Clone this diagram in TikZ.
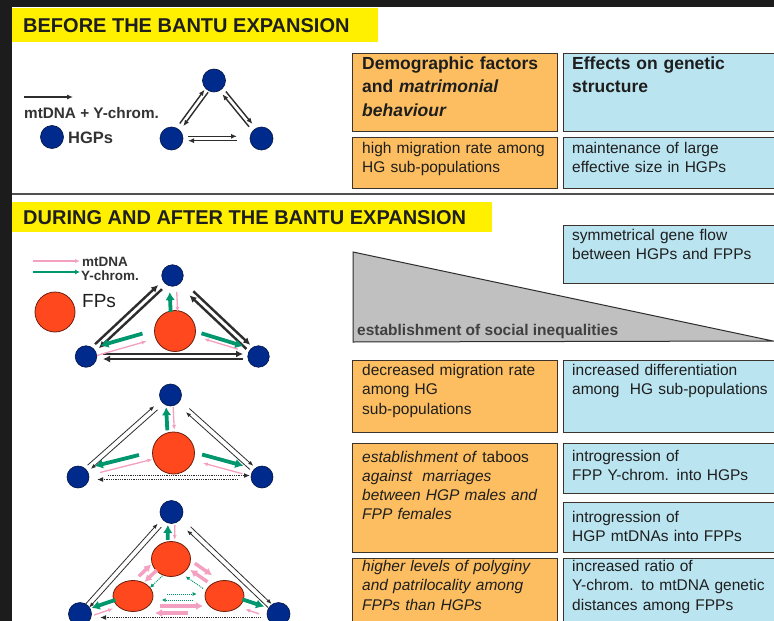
\documentclass[tikz,border=0pt]{standalone}
\usepackage{fontspec}
\setmainfont{Liberation Sans}
\usetikzlibrary{arrows.meta,calc,shapes.geometric}
\definecolor{bgdark}{RGB}{28,28,28}
\definecolor{ban}{RGB}{255,240,0}
\definecolor{orf}{RGB}{252,190,96}
\definecolor{blf}{RGB}{186,228,240}
\definecolor{bord}{RGB}{60,52,44}
\definecolor{hgp}{RGB}{0,42,140}
\definecolor{hgpd}{RGB}{0,20,70}
\definecolor{fpp}{RGB}{255,72,30}
\definecolor{fppd}{RGB}{110,30,10}
\definecolor{grn}{RGB}{0,150,110}
\definecolor{pnk}{RGB}{244,160,192}
\definecolor{blk}{RGB}{45,45,45}
\definecolor{tri}{RGB}{192,192,192}
\definecolor{sepc}{RGB}{80,80,80}
\definecolor{txtc}{RGB}{30,30,30}
\newcommand{\mylink}[6]{\draw[#1,shorten <=#5pt,shorten >=#6pt] ($(#2)!#4pt!90:(#3)$) -- ($(#3)!#4pt!-90:(#2)$);}
\tikzset{
  obox/.style={draw=bord,line width=1.4pt,fill=orf,anchor=north west,inner sep=0pt},
  bbox/.style={draw=bord,line width=1.4pt,fill=blf,anchor=north west,inner sep=0pt},
  txt/.style={anchor=base west,inner sep=0pt,text width=200pt,align=left,text=txtc,font=\fontsize{15.5}{#1}\selectfont},
  txt/.default=19,
  hdr/.style={anchor=base west,inner sep=0pt,text width=200pt,align=left,text=txtc,font=\bfseries\fontsize{17.5}{23.5}\selectfont},
  bantxt/.style={anchor=base west,inner sep=0pt,text=txtc,font=\bfseries\fontsize{20}{24}\selectfont},
  lab/.style={anchor=base west,inner sep=0pt,text=txtc},
  hg/.style={circle,fill=hgp,draw=hgpd,line width=0.6pt,minimum size=23pt,inner sep=0pt},
  fp/.style={circle,fill=fpp,draw=fppd,line width=0.8pt,minimum size=41pt,inner sep=0pt},
  fpe/.style={ellipse,fill=fpp,draw=fppd,line width=0.8pt,minimum width=39pt,minimum height=34pt,inner sep=0pt},
  ar1/.style={draw=blk,line width=1.4pt,-{Latex[length=6pt,width=5pt]}},
  ar2/.style={draw=blk,line width=2.4pt,-{Latex[length=7pt,width=7pt]}},
  ar3/.style={draw=blk,line width=0.8pt,-{Latex[length=5pt,width=4pt]}},
  ar3d/.style={draw=blk,line width=1.2pt,dash pattern=on 1pt off 0.8pt,-{Latex[length=6pt,width=5pt]}},
  gr/.style={draw=grn,line width=3.8pt,-{Latex[length=8pt,width=9.5pt]}},
  pk/.style={draw=pnk,line width=1.3pt,-{Latex[length=5pt,width=4pt]}},
  pkt/.style={draw=pnk,line width=3.5pt,-{Latex[length=7pt,width=8pt]}},
  grd/.style={draw=grn,line width=1pt,dash pattern=on 1pt off 1pt,-{Latex[length=4pt,width=4pt]}},
}
\begin{document}
\begin{tikzpicture}[x=1pt,y=-1pt]
\useasboundingbox (0,0) rectangle (774,621);
\clip (0,0) rectangle (774,621);
\fill[bgdark] (0,0) rectangle (774,621);
\fill[white] (12,7) rectangle (774,621);

% banners
\node[fill=ban,anchor=north west,minimum width=366pt,minimum height=34pt,inner sep=0pt] (ban1) at (12,8) {};
\node[bantxt] (bt1) at (23,32) {BEFORE THE BANTU EXPANSION};
\node[fill=ban,anchor=north west,minimum width=480pt,minimum height=30pt,inner sep=0pt] (ban2) at (12,202) {};
\node[bantxt] (bt2) at (23,224) {DURING AND AFTER THE BANTU EXPANSION};
\draw[sepc,line width=2pt] (12,194) -- (774,194);

% top table
\node[obox,minimum width=205pt,minimum height=78pt] (h1) at (352,53) {};
\node[bbox,minimum width=222pt,minimum height=78pt] (h2) at (563,53) {};
\node[hdr] (h1t) at (362,69) {Demographic factors\\and \textit{matrimonial}\\\textit{behaviour}};
\node[hdr] (h2t) at (572,69) {Effects on genetic\\structure};
\node[obox,minimum width=205pt,minimum height=51pt] (o1) at (352,137) {};
\node[bbox,minimum width=222pt,minimum height=51pt] (b1) at (563,137) {};
\node[txt] (o1t) at (362,153) {high migration rate among\\HG sub-populations};
\node[txt] (b1t) at (572,153) {maintenance of large\\effective size in HGPs};

% gray wedge
\draw[fill=tri,draw=blk,line width=1pt] (353,252) -- (353,342) -- (773,341) -- cycle;
\node[lab,font=\bfseries\fontsize{15.5}{18}\selectfont,text=black!75] (wt) at (357,335) {establishment of social inequalities};
\node[bbox,minimum width=222pt,minimum height=58pt] (b2) at (563,225) {};
\node[txt=19.5] (b2t) at (572,240) {symmetrical gene flow\\between HGPs and FPPs};

% lower table
\node[obox,minimum width=205pt,minimum height=72pt] (o3) at (352,360) {};
\node[bbox,minimum width=222pt,minimum height=72pt] (b3) at (563,360) {};
\node[txt=19.5] (o3t) at (362,375) {decreased migration rate\\among HG\\sub-populations};
\node[txt=19.5] (b3t) at (572,375) {increased differentiation\\among\ \ HG sub-populations};
\node[obox,minimum width=205pt,minimum height=109pt] (o4) at (352,443) {};
\node[bbox,minimum width=222pt,minimum height=50pt] (b4) at (563,443) {};
\node[bbox,minimum width=222pt,minimum height=50pt] (b5) at (563,502) {};
\node[txt=19] (o4t) at (362,462) {\textit{establishment of} taboos\\\textit{against\ \ marriages}\\\textit{between HGP males and}\\\textit{FPP females}};
\node[txt=19] (b4t) at (572,461) {introgression of\\FPP Y-chrom. into HGPs};
\node[txt=19] (b5t) at (572,522) {introgression of\\HGP mtDNAs into FPPs};
\node[obox,minimum width=205pt,minimum height=80pt] (o6) at (352,558) {};
\node[bbox,minimum width=222pt,minimum height=80pt] (b6) at (563,558) {};
\node[txt=19.5] (o6t) at (362,571) {\textit{higher levels of polyginy}\\\textit{and patrilocality among}\\\textit{FPPs than HGPs}};
\node[txt=19.5] (b6t) at (572,571) {increased ratio of\\Y-chrom. to mtDNA genetic\\distances among FPPs};

% legend 1
\coordinate (la1) at (24,97);
\coordinate (la2) at (73,97);
\draw[ar1,line width=1.1pt] (la1) -- (la2);
\node[lab,font=\bfseries\fontsize{15.3}{18}\selectfont,text=black!80] (lt1) at (24,118) {mtDNA + Y-chrom.};
\node[hg] (lg) at (52,137) {};
\node[lab,font=\bfseries\fontsize{16.5}{19}\selectfont,text=black!80] (lt2) at (68,143) {HGPs};

% triangle 1
\node[hg] (t1) at (214,80.5) {};
\node[hg] (l1) at (171.5,138.5) {};
\node[hg] (r1) at (261.5,138.5) {};
\mylink{ar1}{l1}{t1}{2.2}{17}{13}
\mylink{ar1}{t1}{l1}{2.2}{13}{17}
\mylink{ar1}{t1}{r1}{2.2}{16}{17}
\mylink{ar1}{r1}{t1}{2.2}{17}{16}
\mylink{ar1}{l1}{r1}{2.2}{16.5}{24.5}
\mylink{ar1}{r1}{l1}{2.2}{24.5}{16.5}

% legend 2
\coordinate (lp1) at (33,261);
\coordinate (lp2) at (80,261);
\coordinate (lq1) at (33,272);
\coordinate (lq2) at (80,272);
\draw[pk,line width=1.6pt] (lp1) -- (lp2);
\draw[draw=grn,line width=2.2pt,-{Latex[length=5pt,width=5pt]}] (lq1) -- (lq2);
\node[lab,font=\bfseries\fontsize{13.5}{16}\selectfont,text=black!80] (lt3) at (82,266) {mtDNA};
\node[lab,font=\bfseries\fontsize{13.5}{16}\selectfont,text=black!80] (lt4) at (81,280) {Y-chrom.};
\node[fp,minimum size=40pt] (lf) at (55,312) {};
\node[lab,font=\fontsize{19}{22}\selectfont] (lt5) at (82,307) {FPs};

% triangle 2
\node[hg,minimum size=21.5pt] (t2) at (172.5,275.5) {};
\node[hg,minimum size=21.5pt] (l2) at (86,356.5) {};
\node[hg,minimum size=21.5pt] (r2) at (258.5,356.5) {};
\node[fp] (f2) at (175,331) {};
\mylink{ar2}{l2}{t2}{2.8}{15}{17}
\mylink{ar2}{t2}{l2}{2.8}{17}{15}
\mylink{ar2}{t2}{r2}{2.8}{26}{14}
\mylink{ar2}{r2}{t2}{2.8}{14}{26}
\mylink{ar2}{l2}{r2}{2.5}{17}{15.5}
\mylink{ar2}{r2}{l2}{2.5}{15.5}{17}
\mylink{gr}{f2}{t2}{3.5}{19}{16.5}
\mylink{pk}{t2}{f2}{3.5}{16.5}{19}
\mylink{gr}{f2}{l2}{-6.5}{32}{17}
\mylink{pk}{l2}{f2}{-2}{11}{30}
\mylink{gr}{f2}{r2}{5.5}{26}{17.6}
\mylink{pk}{r2}{f2}{-1}{22}{30}

% triangle 3
\node[hg,minimum size=22pt] (t3) at (170.5,395) {};
\node[hg,minimum size=22pt] (l3) at (78,477) {};
\node[hg,minimum size=22pt] (r3) at (262,477) {};
\node[fp,minimum size=42pt] (f3) at (173.5,453) {};
\mylink{ar3}{l3}{t3}{2.5}{15}{19.5}
\mylink{ar3}{t3}{l3}{2.5}{19.5}{15}
\mylink{ar3}{t3}{r3}{2.5}{23}{14}
\mylink{ar3}{r3}{t3}{2.5}{14}{23}
\mylink{ar3d}{l3}{r3}{1.5}{30}{12}
\mylink{ar3d}{r3}{l3}{2.5}{24}{19}
\mylink{gr}{f3}{t3}{5}{23}{12}
\mylink{pk}{t3}{f3}{2}{12}{23}
\mylink{gr}{f3}{l3}{-6.5}{34}{19}
\mylink{pk}{l3}{f3}{-1}{22.6}{22}
\mylink{gr}{f3}{r3}{6}{28}{21}
\mylink{pk}{r3}{f3}{2}{19.7}{31}

% triangle 4
\node[hg] (t4) at (171.5,512) {};
\node[hg] (l4) at (80,614) {};
\node[hg] (r4) at (278.5,614) {};
\node[fpe,minimum height=35pt] (fa) at (171,559) {};
\node[fpe,minimum height=31pt,minimum width=40pt] (fb) at (133,596) {};
\node[fpe,minimum height=31pt] (fc) at (224.5,596) {};
\mylink{ar3}{l4}{t4}{2.5}{11}{18}
\mylink{ar3}{t4}{l4}{2.5}{18}{11}
\mylink{ar3}{t4}{r4}{2.5}{24}{12}
\mylink{ar3}{r4}{t4}{2.5}{12}{24}
\mylink{ar3d}{r4}{l4}{3.5}{18}{20}
\mylink{gr}{fa}{t4}{3.5}{19}{13}
\mylink{pk}{t4}{fa}{3.5}{13}{19}
\mylink{gr}{fb}{l4}{-2}{18}{13}
\mylink{pk}{l4}{fb}{-5.5}{13}{22.8}
\mylink{gr}{fc}{r4}{2.5}{18}{16}
\mylink{pk}{r4}{fc}{6}{18.5}{23.7}
\mylink{pkt}{fb}{fa}{10}{18}{18}
\mylink{pkt}{fa}{fb}{-2}{18}{18}
\mylink{grd}{fa}{fb}{6}{18}{18}
\mylink{pkt}{fa}{fc}{10}{22}{22}
\mylink{pkt}{fc}{fa}{-2}{22}{22}
\mylink{grd}{fc}{fa}{6}{22}{22}
\mylink{pkt}{fb}{fc}{-10}{27}{21.5}
\mylink{pkt}{fc}{fb}{17}{36.5}{22}
\mylink{grd}{fb}{fc}{2}{33.7}{27.8}
\mylink{grd}{fc}{fb}{4}{31.5}{28.7}
\end{tikzpicture}
\end{document}
